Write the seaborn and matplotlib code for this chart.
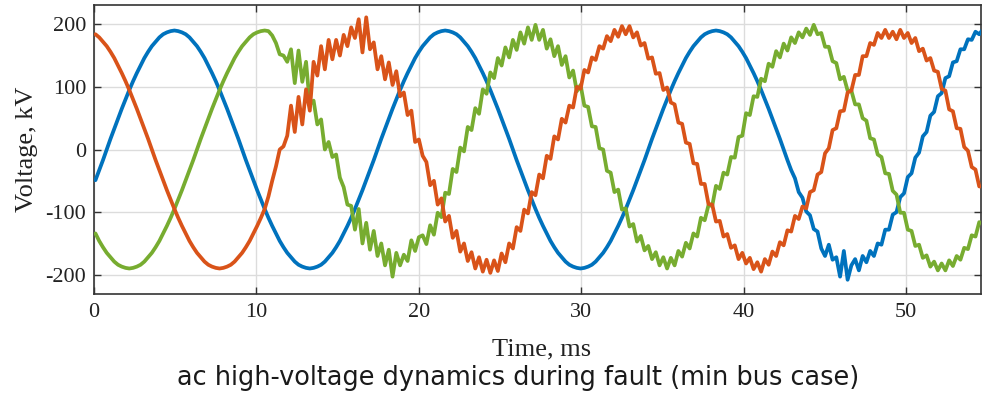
import numpy as np
import pandas as pd
import matplotlib
matplotlib.use("Agg")
import matplotlib.pyplot as plt
import seaborn as sns

# ---------------- data ----------------
t_start_ms = 0.089      # first sample time
t_step_ms = 0.2315      # sample spacing

phase_a_kv = [  # blue
    -49, -33, -17, 0, 17, 33, 49, 65, 80, 95, 109, 122, 134, 146, 156, 165, 172, 179, 184, 187, 189, 190, 189, 187,
    184, 179, 172, 165, 156, 146, 134, 122, 109, 95, 80, 65, 49, 33, 17, 0, -17, -33, -49, -65, -80, -95, -109, -122,
    -134, -146, -156, -165, -172, -179, -184, -187, -189, -190, -189, -187, -184, -179, -172, -165, -156, -146, -134, -122, -109, -95, -80, -65,
    -49, -33, -17, 0, 17, 33, 49, 65, 80, 95, 109, 122, 134, 146, 156, 165, 172, 179, 184, 187, 189, 190, 189, 187,
    184, 179, 172, 165, 156, 146, 134, 122, 109, 95, 80, 65, 49, 33, 17, 0, -17, -33, -49, -65, -80, -95, -109, -122,
    -134, -146, -156, -165, -172, -179, -184, -187, -189, -190, -189, -187, -184, -179, -172, -165, -156, -146, -134, -122, -109, -95, -80, -65,
    -49, -33, -17, 0, 17, 33, 49, 65, 80, 95, 109, 122, 134, 146, 156, 165, 172, 179, 184, 187, 189, 190, 189, 187,
    184, 179, 172, 165, 156, 146, 134, 122, 109, 95, 80, 65, 49, 33, 17, 0, -17, -33,
    -46, -68, -77, -99, -105, -127, -131, -158, -170, -152, -176, -172, -203, -162, -208, -185, -175, -193, -170, -180,
    -162, -170, -150, -152, -128, -128, -104, -100, -76, -70, -44, -38, -13, -5, 21, 28, 54, 60, 85, 90,
    114, 117, 139, 141, 160, 160, 176, 175, 188, 184, 192,
]

phase_b_kv = [  # orange
    184, 179, 172, 165, 156, 146, 134, 122, 109, 95, 80, 65, 49, 33, 17, 0, -17, -33, -49, -65, -80, -95, -109, -122,
    -134, -146, -156, -165, -172, -179, -184, -187, -189, -190, -189, -187, -184, -179, -172, -165, -156, -146, -134, -122, -109, -95,
    -75, -50, -27, 0, 5, 22, 70, 28, 84, 40, 96, 62, 140, 118, 165, 128, 175, 144, 175, 150, 183, 165, 195, 178,
    208, 155, 211, 160, 171, 128, 149, 112, 139, 103, 125, 85, 91, 55, 62, 12, 16, -10,
    -20, -57, -50, -88, -78, -115, -106, -141, -130, -163, -150, -178, -164, -190, -172, -195, -176, -197, -177, -194,
    -166, -180, -150, -158, -124, -130, -96, -102, -68, -73, -40, -46, -10, -15, 21, 16, 49, 43, 70, 67, 100, 97,
    127, 123, 147, 143, 165, 161, 181, 173, 191, 180, 197, 184, 197, 179, 187, 166, 170, 145, 147, 121,
    122, 95, 99, 75, 72, 43, 41, 11, 9, -22, -23, -55, -55, -87, -88, -115, -114, -139, -135, -157,
    -153, -175, -165, -182, -173, -191, -180, -195, -175, -184, -163, -170, -148, -153, -129, -131,
    -106, -111, -91, -94, -68, -65, -40, -36, -6, 2, 31, 34, 61, 62, 91, 94, 119, 119, 149, 149,
    170, 167, 186, 178, 191, 178, 188, 176, 191, 178, 186, 170, 178, 157, 161, 142, 146, 126, 124, 97,
    94, 64, 61, 34, 33, 4, -2, -28, -32, -59, -59,
]

phase_c_kv = [  # green
    -134, -146, -156, -165, -172, -179, -184, -187, -189, -190, -189, -187, -184, -179, -172, -165, -156, -146, -134, -122,
    -109, -95, -80, -65, -49, -33, -17, 0, 17, 33, 49, 65, 80, 95, 109, 122, 134, 146, 156, 165, 172, 179, 184, 187, 189, 190, 189,
    182, 170, 152, 150, 140, 160, 106, 158, 108, 140, 72, 78, 40, 48, 0, 12, -12, -8, -45, -60,
    -88, -90, -128, -95, -150, -117, -160, -130, -170, -150, -185, -160, -203, -165, -185, -168, -178, -145, -162, -140,
    -137, -151, -121, -136, -101, -108, -69, -71, -31, -36, 3, -3, 36, 31, 66, 57, 96, 89, 123, 114,
    146, 134, 163, 147, 175, 159, 187, 169, 195, 175, 199, 175, 191, 161, 176, 149, 165, 135, 149, 115, 126, 93, 103,
    70, 68, 37, 36, 2, 0, -34, -37, -68, -64, -96, -94, -123, -119, -147, -138, -161, -154, -175, -164,
    -185, -172, -190, -173, -185, -162, -171, -149, -158, -134, -139, -109, -113, -89, -90, -58, -63, -37, -40, -12,
    -13, 20, 22, 58, 55, 85, 84, 113, 109, 137, 132, 157, 147, 169, 158, 179,
    170, 187, 179, 193, 183, 199, 184, 186, 164, 164, 141, 138, 112, 116, 94, 94, 72, 72, 50, 46,
    18, 16, -8, -12, -38, -39, -66, -72, -101, -101, -128, -130, -154, -152, -173, -169, -187, -179, -193, -182,
    -193, -177, -186, -170, -176, -157, -159, -137, -139, -116, -118,
]

series_names = ["Phase A", "Phase B", "Phase C"]
series_colors = ["#0072BD", "#D95319", "#77AC30"]
draw_order = ["Phase A", "Phase C", "Phase B"]
x_ticks = [0, 10, 20, 30, 40, 50]
y_ticks = [-200, -100, 0, 100, 200]
x_label = "Time, ms"
y_label = "Voltage, kV"
caption = "ac high-voltage dynamics during fault (min bus case)"

frames = []
for name, vals in zip(series_names, [phase_a_kv, phase_b_kv, phase_c_kv]):
    t = t_start_ms + t_step_ms * np.arange(len(vals))
    frames.append(pd.DataFrame({"time": t, "voltage": vals, "phase": name}))
df = pd.concat(frames, ignore_index=True)
palette = dict(zip(series_names, series_colors))

# ---------------- style ----------------
sns.set_style("ticks")
plt.rcParams["font.family"] = ["Liberation Serif", "DejaVu Serif"]
plt.rcParams["axes.unicode_minus"] = False

W, H = 982, 393
fig = plt.figure(figsize=(W / 100, H / 100), dpi=100)
ax = fig.add_axes([94 / W, 1 - 294 / H, 887 / W, 289 / H])

for name in draw_order:
    sns.lineplot(data=df[df["phase"] == name], x="time", y="voltage",
                 color=palette[name], estimator=None, sort=False,
                 linewidth=2.7, legend=False, ax=ax, zorder=3)

ax.set_xlim(0, 54.6)
ax.set_ylim(-230.7, 230.7)
ax.set_xticks(x_ticks)
ax.set_yticks(y_ticks)
ax.set_xticklabels([str(v) for v in x_ticks])
ax.set_yticklabels([str(v) for v in y_ticks])

ax.grid(True, color="#dcdcdc", linewidth=1.0)
ax.set_axisbelow(True)
for s in ax.spines.values():
    s.set_visible(True)
    s.set_color("#333333")
    s.set_linewidth(1.2)

ax.tick_params(axis="both", direction="in", top=True, right=True, length=5,
               width=1.0, color="#333333", labelsize=16, labelcolor="#222222")
ax.tick_params(axis="x", pad=6.5)
ax.tick_params(axis="y", pad=5.5)

ax.set_xlabel(x_label, fontsize=19, color="#222222", va="baseline")
ax.xaxis.set_label_coords((542 - 94) / 887, (294 - 355) / 289)
ax.set_ylabel(y_label, fontsize=19, color="#222222", va="center")
ax.yaxis.set_label_coords((27 - 94) / 887, 0.5)

cap = fig.text(518 / W, 1 - 385 / H, caption, ha="center", va="baseline",
               family=["DejaVu Sans"], fontsize=18, color="#1a1a1a")
fig.canvas.draw()
r = fig.canvas.get_renderer()
wpx = cap.get_window_extent(renderer=r).width
cap.set_fontsize(18 * 686 / wpx)

fig.savefig("out.png", dpi=100)
